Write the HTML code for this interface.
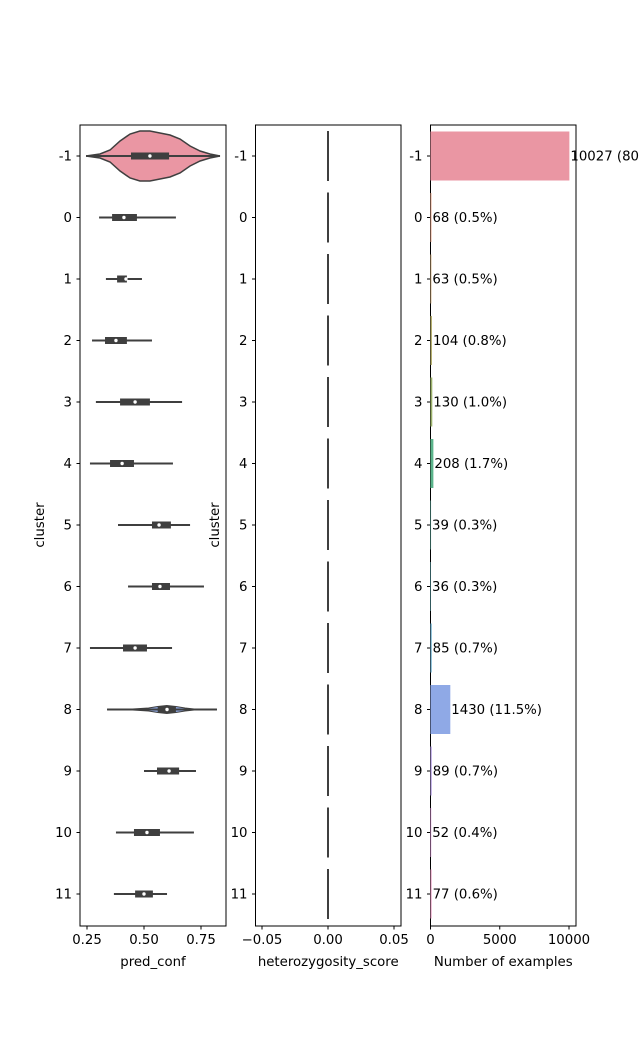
<!DOCTYPE html>
<html><head><meta charset="utf-8"><style>
body{margin:0;background:#fff}
svg text{font-family:"DejaVu Sans","Liberation Sans",sans-serif;font-size:13.3px;fill:#000}
</style></head><body>
<svg id="c" width="640" height="1040" xmlns="http://www.w3.org/2000/svg"></svg>
<script>
const clusters=["-1","0","1","2","3","4","5","6","7","8","9","10","11"];
const wMin=[0.246,0.303,0.333,0.272,0.289,0.263,0.386,0.430,0.263,0.338,0.500,0.377,0.368];
const wMax=[0.833,0.640,0.491,0.535,0.667,0.627,0.702,0.763,0.623,0.820,0.728,0.719,0.601];
const q1=[0.443,0.360,0.382,0.329,0.395,0.351,0.535,0.535,0.408,0.560,0.557,0.456,0.461];
const q3=[0.610,0.469,0.425,0.425,0.526,0.456,0.618,0.614,0.513,0.640,0.654,0.570,0.539];
const med=[0.526,0.412,0.421,0.377,0.461,0.404,0.566,0.570,0.461,0.601,0.610,0.513,0.500];
const densX=[0.246,0.307,0.351,0.395,0.439,0.482,0.526,0.570,0.614,0.658,0.702,0.746,0.789,0.833];
const densMain=[0,0.08,0.24,0.6,0.88,1,1,0.92,0.84,0.68,0.4,0.2,0.08,0];
const densX8=[0.338,0.45,0.52,0.56,0.60,0.64,0.68,0.72,0.820];
const densC8=[0,0.02,0.06,0.12,0.16,0.12,0.06,0.02,0];
const het=[0,0,0,0,0,0,0,0,0,0,0,0,0];
const counts=[10027,68,63,104,130,208,39,36,85,1430,89,52,77];
const colors=["#ea96a3","#e5a183","#cda776","#b3ad6a","#9ab06a","#5bb48b","#5eb2a5","#61b0b8","#67adce","#8fa9e6","#b7a0e6","#dc96d9","#e896bf"];
const xTicks1=[0.25,0.5,0.75],xTicks2=[-0.05,0,0.05],xTicks3=[0,5000,10000];

const svg=document.getElementById('c');const NS="http://www.w3.org/2000/svg";
function el(t,a,p){const e=document.createElementNS(NS,t);for(const k in a)e.setAttribute(k,a[k]);(p||svg).appendChild(e);return e;}
const topY=125,botY=926;
const yS=i=>156+i*61.5;
const x1=v=>87+(v-0.25)*228, x2=v=>328+v*1320, x3=v=>430.5+v*0.01385;
const dark="#3f3f3f";
function frame(l,r,name,xt,xf,lbl,fmt,ylab){
  const g=el('g',{});
  
  
  el('rect',{x:l,y:topY,width:r-l,height:botY-topY,fill:'none',stroke:'#000','stroke-width':1},g);
  clusters.forEach((c,i)=>{
    el('line',{x1:l-3.5,x2:l,y1:yS(i),y2:yS(i),stroke:'#000'},g);
    const t=el('text',{x:l-8,y:yS(i)+4.5,'text-anchor':'end'},g);t.textContent=c;
    
    
  });
  xt.forEach(v=>{
    el('line',{x1:xf(v),x2:xf(v),y1:botY,y2:botY+3.5,stroke:'#000'},g);
    const t=el('text',{x:xf(v),y:botY+18,'text-anchor':'middle'},g);t.textContent=fmt(v);
    
    
  });
  const xl=el('text',{x:(l+r)/2,y:966,'text-anchor':'middle'},g);xl.textContent=lbl;
  
  
  if(ylab){const yl=el('text',{x:ylab,y:525,'text-anchor':'middle',transform:`rotate(-90 ${ylab} 525)`},g);yl.textContent='cluster';
    
    }
}
frame(80,226,'pred-conf-panel',xTicks1,x1,'pred_conf',v=>v.toFixed(2),44);
frame(255.5,401,'heterozygosity-panel',xTicks2,x2,'heterozygosity_score',v=>(v<0?'\u22120.05':v.toFixed(2)),219);
frame(430.5,576,'count-panel',xTicks3,x3,'Number of examples',v=>String(v),null);

const total=counts.reduce((a,b)=>a+b,0);
clusters.forEach((c,i)=>{
  const y=yS(i);
  let dens=null,dx=null;
  if(i===0){dens=densMain;dx=densX;} else if(c==="8"){dens=densC8;dx=densX8;}
  if(dens){
    let up=dx.map((v,k)=>`${x1(v)},${y-dens[k]*25}`);
    let dn=dx.map((v,k)=>`${x1(v)},${y+dens[k]*25}`).reverse();
    const p=el('polygon',{points:up.concat(dn).join(' '),fill:i===0?colors[i]:'#8fa9e6',stroke:dark,'stroke-width':i===0?1.5:1});
    
    
  }
  const w=el('line',{x1:x1(wMin[i]),x2:x1(wMax[i]),y1:y,y2:y,stroke:dark,'stroke-width':2});
  
  
  const b=el('rect',{x:x1(q1[i]),y:y-3.5,width:x1(q3[i])-x1(q1[i]),height:7,fill:dark});
  
  
  const m=el('circle',{cx:x1(med[i]),cy:y,r:1.7,fill:'#fff'});
  
  
  const h=el('line',{x1:x2(het[i]),x2:x2(het[i]),y1:y-25,y2:y+25,stroke:dark,'stroke-width':2});
  
  
  const br=el('rect',{x:x3(0),y:y-24.5,width:x3(counts[i])-x3(0),height:49,fill:colors[i]});
  
  
  const t=el('text',{x:x3(counts[i])+1,y:y+4.5});
  t.textContent=`${counts[i]} (${(counts[i]/total*100).toFixed(1)}%)`;
  
  
});
</script>
</body></html>
